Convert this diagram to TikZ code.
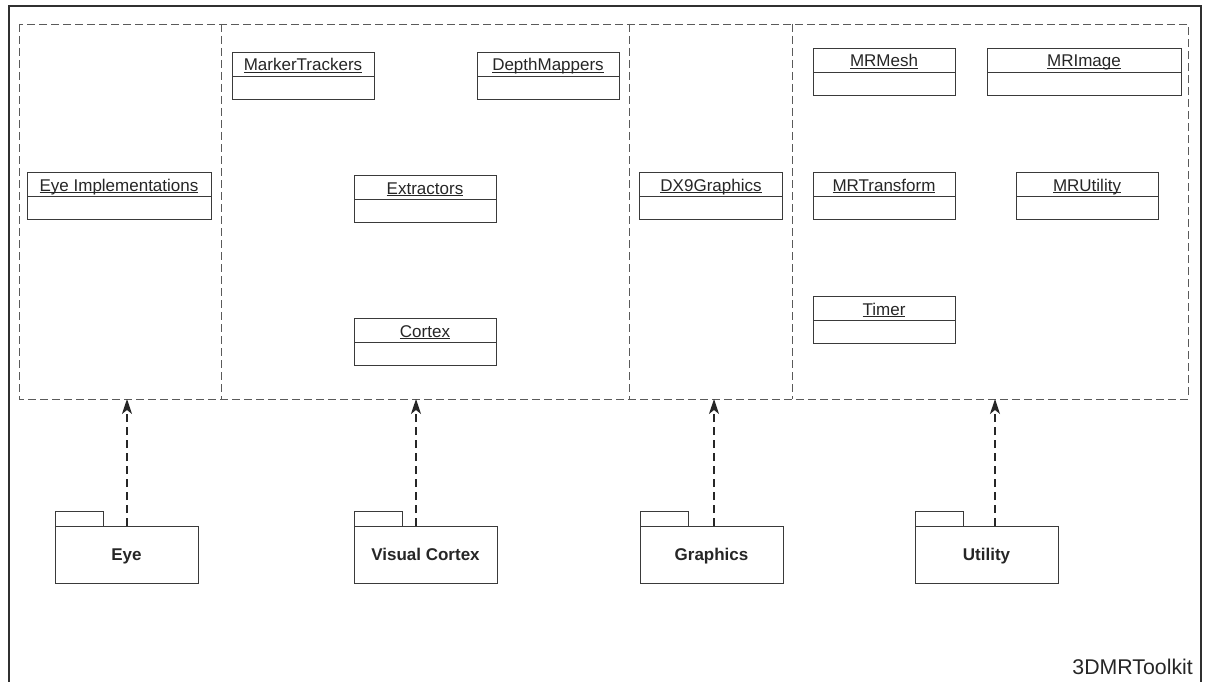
\documentclass[tikz,border=0pt]{standalone}
\usepackage{fontspec}
\setmainfont{Liberation Sans}
\usetikzlibrary{arrows.meta,calc}
\definecolor{ink}{HTML}{262626}
\definecolor{linec}{HTML}{3A3A3A}
\definecolor{dashc}{HTML}{5A5A5A}
\definecolor{framec}{HTML}{303030}
\newcommand{\ulname}[1]{\setbox0\hbox{#1}\rlap{\color{ink}\rule[-2pt]{\wd0}{0.8pt}}\box0}
\tikzset{
  frameline/.style={draw=framec, line width=2.8pt},
  region/.style={draw=none, inner sep=0pt, outer sep=0pt, anchor=north west, minimum height=375pt},
  regionline/.style={draw=dashc, line width=0.9pt, dash pattern=on 8pt off 4pt},
  classbox/.style={draw=linec, line width=0.9pt, inner sep=0pt, outer sep=0pt, anchor=north, minimum height=47pt},
  boxline/.style={draw=linec, line width=0.9pt},
  classname/.style={anchor=base, inner sep=0pt, text=ink, font=\fontsize{17}{20}\selectfont},
  pkgbody/.style={draw=linec, line width=0.9pt, inner sep=0pt, outer sep=0pt, anchor=north west, minimum width=143pt, minimum height=57pt},
  pkglabel/.style={anchor=base, inner sep=0pt, text=ink, font=\fontsize{17}{20}\selectfont\bfseries},
  dep/.style={draw=ink, line width=1.3pt, dash pattern=on 8pt off 5pt, -{Stealth[length=15pt,width=10pt,inset=4pt]}},
}
% name, center x, top y, width, label
\newcommand{\umlclass}[5]{%
  \node[classbox, minimum width=#4pt] (#1) at (#2,#3) {};
  \draw[boxline] ($(#1.north west)+(0,24)$) -- ($(#1.north east)+(0,24)$);
  \node[classname] (#1-name) at ($(#1.north)+(0,19)$) {\ulname{#5}};
}
% name, left x, label
\newcommand{\umlpkg}[3]{%
  \node[pkgbody] (#1) at (#2,526) {};
  \draw[boxline] (#1.north west) rectangle ++(48,-15);
  \node[pkglabel] (#1-name) at ($(#1.north)+(0,34)$) {#3};
}
\begin{document}
\begin{tikzpicture}[x=1pt,y=-1pt]
\useasboundingbox (0,0) rectangle (1209,682);
% outer frame
\draw[frameline] (9,682) -- (9,6) -- (1201,6) -- (1201,682);
% dashed regions
\node[region, minimum width=202pt] (r1) at (19,24) {};
\node[region, minimum width=408pt] (r2) at (221,24) {};
\node[region, minimum width=163pt] (r3) at (629,24) {};
\node[region, minimum width=396pt] (r4) at (792,24) {};
\draw[regionline] (r1.north west) rectangle (r4.south east);
\draw[regionline] (r1.north east) -- (r1.south east);
\draw[regionline] (r2.north east) -- (r2.south east);
\draw[regionline] (r3.north east) -- (r3.south east);
% classes
\umlclass{eyeimpl}{119}{172}{184}{Eye Implementations}
\umlclass{marker}{303}{52}{142}{MarkerTrackers}
\umlclass{depth}{548}{52}{142}{DepthMappers}
\umlclass{extract}{425}{175}{142}{Extractors}
\umlclass{cortex}{425}{318}{142}{Cortex}
\umlclass{dx9}{711}{172}{143}{DX9Graphics}
\umlclass{mesh}{884}{48}{142}{MRMesh}
\umlclass{image}{1084}{48}{194}{MRImage}
\umlclass{transform}{884}{172}{142}{MRTransform}
\umlclass{utility}{1087}{172}{142}{MRUtility}
\umlclass{timer}{884}{296}{142}{Timer}
% packages
\umlpkg{eye}{55}{Eye}
\umlpkg{vc}{354}{Visual Cortex}
\umlpkg{gfx}{640}{Graphics}
\umlpkg{util}{915}{Utility}
% dependencies
\coordinate (a1) at ($(eye.north west)+(72,0)$);
\coordinate (a2) at ($(vc.north west)+(62,0)$);
\coordinate (a3) at ($(gfx.north west)+(74,0)$);
\coordinate (a4) at ($(util.north west)+(80,0)$);
\draw[dep] (a1) -- (a1 |- r1.south);
\draw[dep] (a2) -- (a2 |- r2.south);
\draw[dep] (a3) -- (a3 |- r3.south);
\draw[dep] (a4) -- (a4 |- r4.south);
% title
\node[anchor=base east, inner sep=0pt, text=ink, font=\fontsize{21.3}{24}\selectfont] (title) at (1193,674) {3DMRToolkit};
\end{tikzpicture}
\end{document}
